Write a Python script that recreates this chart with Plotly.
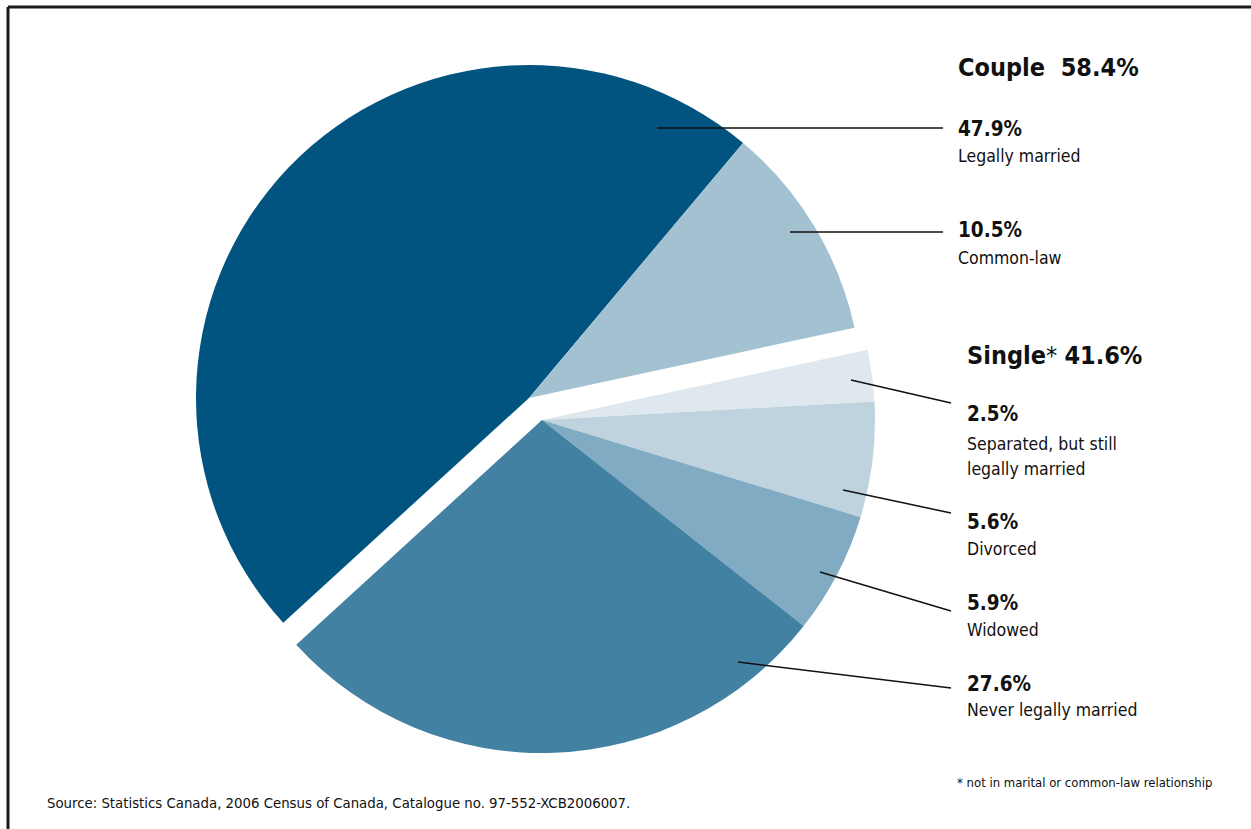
import plotly.graph_objects as go

# Marital status of the population aged 15 and over, 2006
categories = ["Separated, but still legally married", "Divorced", "Widowed",
              "Never legally married", "Legally married", "Common-law"]
values = [2.5, 5.6, 5.9, 27.6, 47.9, 10.5]
groups = ["Single", "Single", "Single", "Single", "Couple", "Couple"]
group_totals = {"Couple": 58.4, "Single": 41.6}
colors = ["#DEE8EE", "#BFD3DE", "#80ABC2", "#4381A3", "#00547F", "#A3C1D1"]
label_names = ["Separated, but still<br>legally married", "Divorced", "Widowed",
               "Never legally married", "Legally married", "Common-law"]

W, H = 1251, 829
FONT = "DejaVu Sans Condensed, Liberation Sans Narrow, Arial Narrow, sans-serif"
INK = "#111111"


def px(x):
    return x / W


def py(y):
    return 1 - y / H


def domain(cx, cy, r):
    return dict(x=[px(cx - r), px(cx + r)], y=[py(cy + r), py(cy - r)])


fig = go.Figure()

# Each group is its own pie, offset from the other to separate Couple and Single
group_layout = {"Couple": (529, 398), "Single": (542, 420)}
R = 333
for g, (cx, cy) in group_layout.items():
    fills = [c if grp == g else "rgba(0,0,0,0)" for c, grp in zip(colors, groups)]
    fig.add_trace(go.Pie(
        labels=categories, values=values, sort=False, direction="clockwise",
        rotation=77.8, textinfo="none", hoverinfo="label+percent",
        marker=dict(colors=fills, line=dict(width=0)),
        domain=domain(cx, cy, R), showlegend=False,
    ))

# Leader lines from slices to their labels
leaders = [
    ((851, 380), (951, 403)),
    ((843, 490), (951, 513)),
    ((820, 572), (951, 611)),
    ((738, 662), (951, 688)),
    ((657, 128), (943, 128)),
    ((790, 232), (943, 232)),
]
for (x0, y0), (x1, y1) in leaders:
    fig.add_shape(type="line", xref="paper", yref="paper",
                  x0=px(x0), y0=py(y0), x1=px(x1), y1=py(y1),
                  line=dict(color=INK, width=1.5))

# Frame (top and left edges)
fig.add_shape(type="line", xref="paper", yref="paper", x0=px(8), y0=py(7), x1=1, y1=py(7),
              line=dict(color="#1a1a1a", width=3))
fig.add_shape(type="line", xref="paper", yref="paper", x0=px(8), y0=py(7), x1=px(8), y1=0,
              line=dict(color="#1a1a1a", width=3))


def text(x, y, s, size):
    fig.add_annotation(xref="paper", yref="paper", x=px(x), y=py(y), text=s,
                       showarrow=False, xanchor="left", yanchor="middle", align="left",
                       font=dict(family=FONT, size=size, color=INK))


# Group headings
text(956, 68, f"<b>Couple&nbsp;&nbsp;{group_totals['Couple']}%</b>", 25)
text(965, 355, f"<b>Single</b>* <b>{group_totals['Single']}%</b>", 25)

# Slice labels
label_pos = [(965, 414, 444), (965, 522, 549), (965, 603, 630), (965, 684, 710),
             (956, 129, 156), (956, 230, 258)]
for (x, yv, yn), v, name in zip(label_pos, values, label_names):
    text(x, yv, f"<b>{v}%</b>", 20.5)
    lines = name.split("<br>")
    for i, ln in enumerate(lines):
        text(x, yn + i * 25, ln, 17.5)

text(955, 782, "* not in marital or common-law relationship", 13)
text(45, 802, "Source: Statistics Canada, 2006 Census of Canada, Catalogue no. 97-552-XCB2006007.", 14.8)

fig.update_layout(width=W, height=H, margin=dict(l=0, r=0, t=0, b=0),
                  paper_bgcolor="white", plot_bgcolor="white")

fig.write_html("out.html")
